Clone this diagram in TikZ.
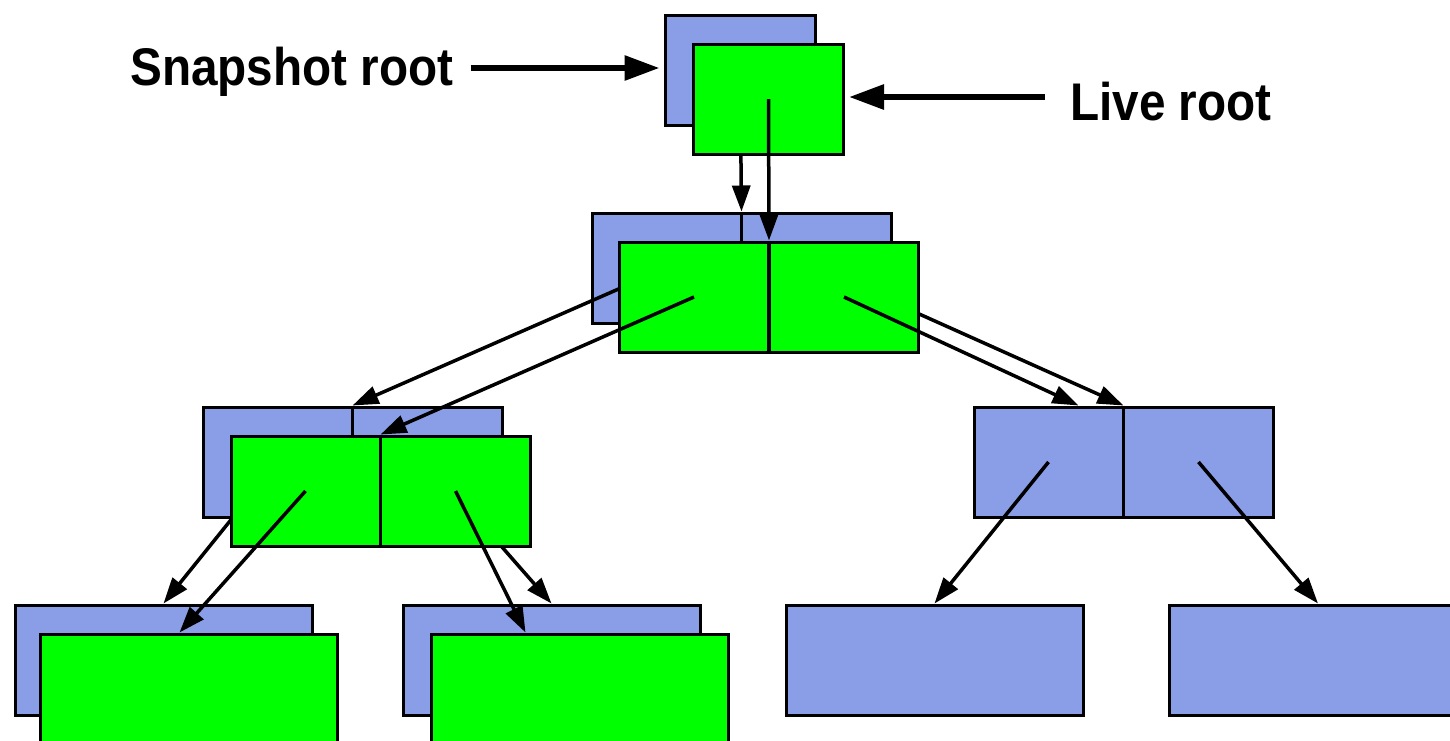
\documentclass[tikz,border=0pt]{standalone}
\usepackage{fontspec}
\newfontfamily\labfont{Liberation Sans}[FakeStretch=0.9]
\usetikzlibrary{arrows.meta}
\definecolor{snapblue}{RGB}{137,158,230}
\definecolor{livegreen}{RGB}{0,255,0}
\begin{document}
\begin{tikzpicture}[x=1pt,y=-1pt,
  box/.style={draw=black,line width=3pt,rectangle,inner sep=0pt,minimum height=110pt},
  single/.style={box,minimum width=150pt},
  double/.style={box,minimum width=299pt},
  leaf/.style={box,minimum width=297pt},
  snap/.style={fill=snapblue},
  live/.style={fill=livegreen},
  ptr/.style={line width=3.5pt,-{Triangle[length=26pt,width=18pt]}},
  bigptr/.style={line width=6pt,-{Triangle[length=35pt,width=24pt]}},
  divider/.style={line width=3.5pt},
  lab/.style={font=\labfont\bfseries\fontsize{53}{60}\selectfont,inner sep=0pt}]
\useasboundingbox (0,0) rectangle (1450,740);
% snapshot (blue) tree
\node[single,snap] (sroot) at (740,70) {};
\node[double,snap] (s1) at (741.5,268) {};
\node[double,snap] (s2a) at (352.5,462) {};
\node[double,snap] (r2) at (1123.5,462) {};
\node[leaf,snap] (s3a) at (163.5,660) {};
\node[leaf,snap] (s3b) at (551.5,660) {};
\node[leaf,snap] (r3a) at (934.5,660) {};
\node[leaf,snap] (r3b) at (1318,660) {};
\draw[divider] (s1.north) -- (s1.south);
\draw[divider] (s2a.north) -- (s2a.south);
\draw[divider] (r2.north) -- (r2.south);
\coordinate (s1L) at ([xshift=-75pt]s1.center);
\coordinate (s1R) at ([xshift=75pt]s1.center);
\coordinate (s2aL) at ([xshift=-75pt]s2a.center);
\coordinate (s2aR) at ([xshift=75pt]s2a.center);
\coordinate (r2L) at ([xshift=-75pt]r2.center);
\coordinate (r2R) at ([xshift=75pt]r2.center);
\draw[ptr] (sroot.center) -- (s1.north);
\draw[ptr] (s1L) -- (s2a.north);
\draw[ptr] (s1R) -- (r2.north);
\draw[ptr] (s2aL) -- (s3a.north);
\draw[ptr] (s2aR) -- (s3b.north);
\draw[ptr] (r2L) -- (r3a.north);
\draw[ptr] (r2R) -- (r3b.north);
% live (green) tree
\node[single,live] (lroot) at (768.5,99) {};
\node[double,live] (l1) at (769,297) {};
\node[double,live] (l2a) at (380.5,491) {};
\node[leaf,live] (l3a) at (188.5,689) {};
\node[leaf,live] (l3b) at (579.5,689) {};
\draw[divider] (l1.north) -- (l1.south);
\draw[divider] (l2a.north) -- (l2a.south);
\coordinate (l1L) at ([xshift=-75pt]l1.center);
\coordinate (l1R) at ([xshift=75pt]l1.center);
\coordinate (l2aL) at ([xshift=-75pt]l2a.center);
\coordinate (l2aR) at ([xshift=75pt]l2a.center);
\draw[ptr] (lroot.center) -- (l1.north);
\draw[ptr] (l1L) -- (l2a.north);
\draw[ptr] (l1R) -- ([xshift=-45pt]r2.north);
\draw[ptr] (l2aL) -- ([xshift=-9pt]l3a.north);
\draw[ptr] (l2aR) -- ([xshift=-54pt]l3b.north);
% labels
\node[lab,anchor=base west] (snaplab) at (130,85) {Snapshot root};
\node[lab,anchor=base west] (livelab) at (1070,120) {Live root};
\draw[bigptr] ([xshift=17pt,yshift=2pt]snaplab.east |- sroot.west) -- ([xshift=-4pt,yshift=2pt]sroot.west);
\draw[bigptr] ([xshift=-25pt,yshift=2pt]livelab.west |- lroot.east) -- ([xshift=4pt,yshift=2pt]lroot.east);
\end{tikzpicture}
\end{document}
